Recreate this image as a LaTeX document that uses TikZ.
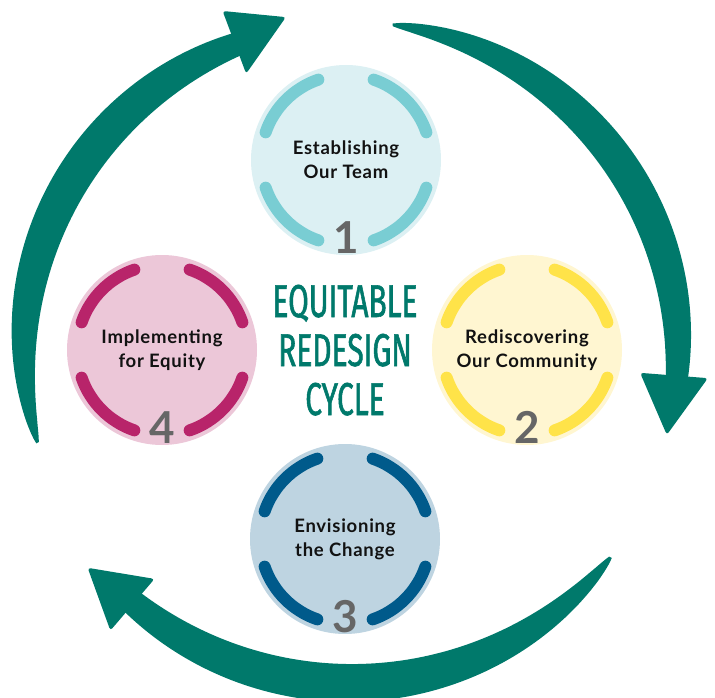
\documentclass[tikz,border=0pt]{standalone}
\usepackage{fontspec}
\setmainfont{Lato}
\newfontfamily\condfont[FakeStretch=0.65,FakeBold=1.2]{Fira Sans}
\newfontfamily\stagefont[LetterSpace=4]{Lato}
\definecolor{arrowcol}{HTML}{00796B}
\definecolor{numcol}{HTML}{666666}
\definecolor{fillA}{HTML}{DCF0F3}\definecolor{ringA}{HTML}{79CDD3}
\definecolor{fillB}{HTML}{FFF6D1}\definecolor{ringB}{HTML}{FFE349}
\definecolor{fillC}{HTML}{BED4E1}\definecolor{ringC}{HTML}{005A8B}
\definecolor{fillD}{HTML}{ECC7D8}\definecolor{ringD}{HTML}{B8246A}
\newcommand\cyclearrow[8]{%
  \fill[arrowcol] plot[domain=0.005:1.03,samples=90,variable=\s]
    ({350+(#1+0.5*#2*wd(\s))*cos((#3)+((#4)-(#3))*\s)},{350-(#1+0.5*#2*wd(\s))*sin((#3)+((#4)-(#3))*\s)})
    -- plot[domain=1.03:0.005,samples=90,variable=\s]
    ({350+(#1-0.5*#2*wd(\s))*cos((#3)+((#4)-(#3))*\s)},{350-(#1-0.5*#2*wd(\s))*sin((#3)+((#4)-(#3))*\s)})
    -- cycle;
  \fill[arrowcol,rounded corners=3pt]
    ({350+(#8+#5)*cos(#4)},{350-(#8+#5)*sin(#4)})
    -- ({350+#7*cos(#6)},{350-#7*sin(#6)})
    -- ({350+(#8-#5)*cos(#4)},{350-(#8-#5)*sin(#4)}) -- cycle;
}
\tikzset{
  stage/.style={circle,minimum size=190pt,inner sep=0pt},
  ringarc/.style={line width=12pt,line cap=round},
  stagetext/.style={align=center,text=black!93,font=\stagefont\bfseries\fontsize{18.5}{24}\selectfont},
  stagenum/.style={anchor=base,text=numcol,font=\bfseries\fontsize{44}{44}\selectfont},
  title/.style={anchor=base,text=arrowcol,font=\condfont\fontsize{46}{49}\selectfont}
}
\begin{document}
\begin{tikzpicture}[x=1pt,y=-1pt,declare function={wd(\s)=pow(sin(150*\s),0.6);}]
\useasboundingbox (0,0) rectangle (715,698);
% arrows
\cyclearrow{326}{36}{197}{110.6}{33.5}{100.9}{339}{328.7}
\cyclearrow{328}{34}{83}{-4.5}{34}{-15}{328}{325}
\cyclearrow{333}{38}{-38}{-130.5}{34}{-140.3}{341}{335}
% stages
\node[stage,fill=fillA] (c1) at (346,160) {};
\node[stage,fill=fillB] (c2) at (527,350) {};
\node[stage,fill=fillC] (c3) at (345,539) {};
\node[stage,fill=fillD] (c4) at (162,350) {};
\foreach \c/\col in {c1/ringA,c2/ringB,c3/ringC,c4/ringD}{
  \foreach \a in {19,109,199,289}{
    \draw[ringarc,\col] (\c.center) ++(\a:85) arc[start angle=\a,end angle=\a+52,radius=85];
  }
}
\node[stagetext] (t1) at (c1.center) {Establishing\\Our Team};
\node[stagetext] (t2) at (c2.center) {Rediscovering\\Our Community};
\node[stagetext] (t3) at (c3.center) {Envisioning\\the Change};
\node[stagetext] (t4) at (c4.center) {Implementing\\for Equity};
\node[stagenum] (n1) at ([yshift=-93pt]c1.center) {1};
\node[stagenum] (n2) at ([yshift=-93pt]c2.center) {2};
\node[stagenum] (n3) at ([yshift=-93pt]c3.center) {3};
\node[stagenum] (n4) at ([yshift=-93pt]c4.center) {4};
% title
\node[title] (h1) at (345,317) {EQUITABLE};
\node[title] (h2) at (345,366) {REDESIGN};
\node[title] (h3) at (345,415) {CYCLE};
\end{tikzpicture}
\end{document}
